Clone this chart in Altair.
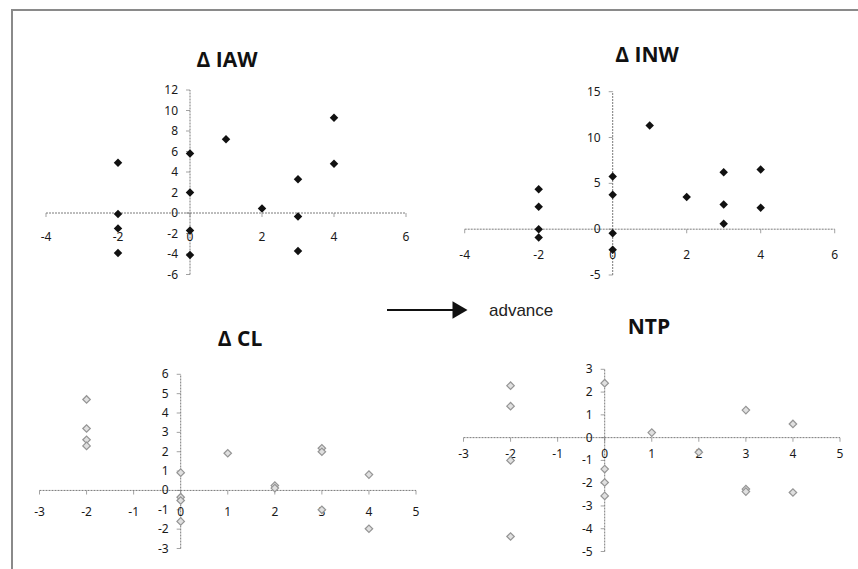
import altair as alt
import pandas as pd

# ---------------- data ----------------
iaw_x = [-2, -2, -2, -2, 0, 0, 0, 0, 1, 2, 3, 3, 3, 4, 4]
iaw_y = [4.9, -0.1, -1.5, -3.9, 5.8, 2.0, -1.7, -4.1, 7.2, 0.45, 3.3, -0.35, -3.7, 9.3, 4.8]

inw_x = [-2, -2, -2, -2, 0, 0, 0, 0, 1, 2, 3, 3, 3, 4, 4]
inw_y = [4.35, 2.45, 0.0, -0.9, 5.75, 3.75, -0.45, -2.25, 11.3, 3.5, 6.2, 2.7, 0.6, 6.5, 2.35]

cl_x = [-2, -2, -2, -2, 0, 0, 0, 0, 1, 2, 2, 3, 3, 3, 4, 4]
cl_y = [4.7, 3.2, 2.62, 2.3, 0.92, -0.35, -0.52, -1.6, 1.92, 0.25, 0.12, 2.18, 2.0, -1.0, 0.82, -1.98]

ntp_x = [-2, -2, -2, -2, 0, 0, 0, 0, 1, 2, 3, 3, 3, 4, 4]
ntp_y = [2.28, 1.38, -1.0, -4.34, 2.39, -1.38, -1.97, -2.56, 0.22, -0.64, 1.21, -2.26, -2.37, 0.6, -2.41]

iaw_xticks = [-4, -2, 0, 2, 4, 6]
iaw_yticks = [-6, -4, -2, 0, 2, 4, 6, 8, 10, 12]
inw_xticks = [-4, -2, 0, 2, 4, 6]
inw_yticks = [-5, 0, 5, 10, 15]
cl_xticks = [-3, -2, -1, 0, 1, 2, 3, 4, 5]
cl_yticks = [-3, -2, -1, 0, 1, 2, 3, 4, 5, 6]
ntp_xticks = [-3, -2, -1, 0, 1, 2, 3, 4, 5]
ntp_yticks = [-5, -4, -3, -2, -1, 0, 1, 2, 3]

titles = ["Δ IAW", "Δ INW", "Δ CL", "NTP"]
arrow_label = "advance"

LABEL_FONT = "Noto Sans"
TITLE_FONT = "Open Sans"


def panel(title, xs, ys, xticks, yticks, xrange_px, yrange_px, title_pos,
          xlabel_dy, filled):
    xdom = [xticks[0], xticks[-1]]
    ydom = [yticks[0], yticks[-1]]
    xs_ = alt.Scale(domain=xdom, range=xrange_px, nice=False, zero=False)
    ys_ = alt.Scale(domain=ydom, range=yrange_px, nice=False, zero=False)

    def X(f):
        return alt.X(f, type="quantitative", scale=xs_, axis=None)

    def Y(f):
        return alt.Y(f, type="quantitative", scale=ys_, axis=None)

    axes_df = pd.DataFrame({
        "x": [xdom[0], 0], "x2": [xdom[1], 0],
        "y": [0, ydom[0]], "y2": [0, ydom[1]],
    })
    xt_df = pd.DataFrame({"v": xticks, "z": [0] * len(xticks),
                          "lab": [str(t) for t in xticks]})
    yt_df = pd.DataFrame({"v": yticks, "z": [0] * len(yticks),
                          "lab": [str(t) for t in yticks]})
    pts = pd.DataFrame({"x": xs, "y": ys})

    layers = []
    layers.append(
        alt.Chart(axes_df).mark_rule(color="#7a7a7a", strokeWidth=1,
                                     strokeDash=[2, 1]).encode(
            x=X("x"), x2="x2", y=Y("y"), y2="y2")
    )
    layers.append(
        alt.Chart(xt_df).mark_tick(orient="vertical", size=4, thickness=1,
                                   color="#7a7a7a", yOffset=2).encode(
            x=X("v"), y=Y("z"))
    )
    layers.append(
        alt.Chart(yt_df).mark_tick(orient="horizontal", size=4, thickness=1,
                                   color="#7a7a7a", xOffset=-2).encode(
            x=X("z"), y=Y("v"))
    )
    layers.append(
        alt.Chart(xt_df).mark_text(font=LABEL_FONT, fontSize=12, color="#1a1a1a",
                                   align="center", baseline="middle",
                                   dy=xlabel_dy).encode(
            x=X("v"), y=Y("z"), text="lab:N")
    )
    layers.append(
        alt.Chart(yt_df).mark_text(font=LABEL_FONT, fontSize=12, color="#1a1a1a",
                                   align="right", baseline="middle",
                                   dx=-12).encode(
            x=X("z"), y=Y("v"), text="lab:N")
    )
    if filled:
        pm = alt.Chart(pts).mark_point(shape="diamond", filled=True, size=72,
                                       color="#111", opacity=1)
    else:
        pm = alt.Chart(pts).mark_point(shape="diamond", filled=True, size=56,
                                       fill="#e0e0e0", stroke="#959595",
                                       strokeWidth=1.2, opacity=1)
    layers.append(pm.encode(x=X("x"), y=Y("y")))
    tdf = pd.DataFrame({"t": [title]})
    layers.append(
        alt.Chart(tdf).mark_text(font=TITLE_FONT, fontSize=21, fontWeight="bold",
                                 color="#111", align="center",
                                 baseline="middle").encode(
            x=alt.value(title_pos[0]), y=alt.value(title_pos[1]), text="t:N")
    )
    return layers


layers = []
layers += panel(titles[0], iaw_x, iaw_y, iaw_xticks, iaw_yticks,
                [46, 406], [274.5, 90], (227, 61), 24, True)
layers += panel(titles[1], inw_x, inw_y, inw_xticks, inw_yticks,
                [464.7, 834.7], [275, 91.7], (647, 56), 26, True)
layers += panel(titles[2], cl_x, cl_y, cl_xticks, cl_yticks,
                [39.5, 416], [548.5, 374.3], (240, 340), 22, False)
layers += panel(titles[3], ntp_x, ntp_y, ntp_xticks, ntp_yticks,
                [463.5, 840], [551.5, 369.3], (649, 328), 16, False)

# arrow + "advance" annotation
one = pd.DataFrame({"t": [arrow_label]})
layers.append(
    alt.Chart(one).mark_rule(color="#111", strokeWidth=2).encode(
        x=alt.value(387), x2=alt.value(458), y=alt.value(310))
)
layers.append(
    alt.Chart(one).mark_point(shape="triangle-right", filled=True, size=300,
                              color="#111", opacity=1).encode(
        x=alt.value(460), y=alt.value(310))
)
layers.append(
    alt.Chart(one).mark_text(font="Liberation Sans", fontSize=17, color="#222",
                             align="left", baseline="middle").encode(
        x=alt.value(489), y=alt.value(311), text="t:N")
)
# frame lines (top and left border of the figure)
layers.append(
    alt.Chart(one).mark_rule(color="#8a8a8a", strokeWidth=2).encode(
        x=alt.value(11), x2=alt.value(858), y=alt.value(10))
)
layers.append(
    alt.Chart(one).mark_rule(color="#8a8a8a", strokeWidth=2).encode(
        x=alt.value(12), y=alt.value(10), y2=alt.value(569))
)

chart = alt.layer(*layers).resolve_scale(
    x="independent", y="independent"
).properties(
    width=858, height=569,
    autosize=alt.AutoSizeParams(type="none"),
    padding=0,
    background="white",
).configure_view(stroke=None)

chart.save("out.html", embed_options={"renderer": "svg", "actions": False})
